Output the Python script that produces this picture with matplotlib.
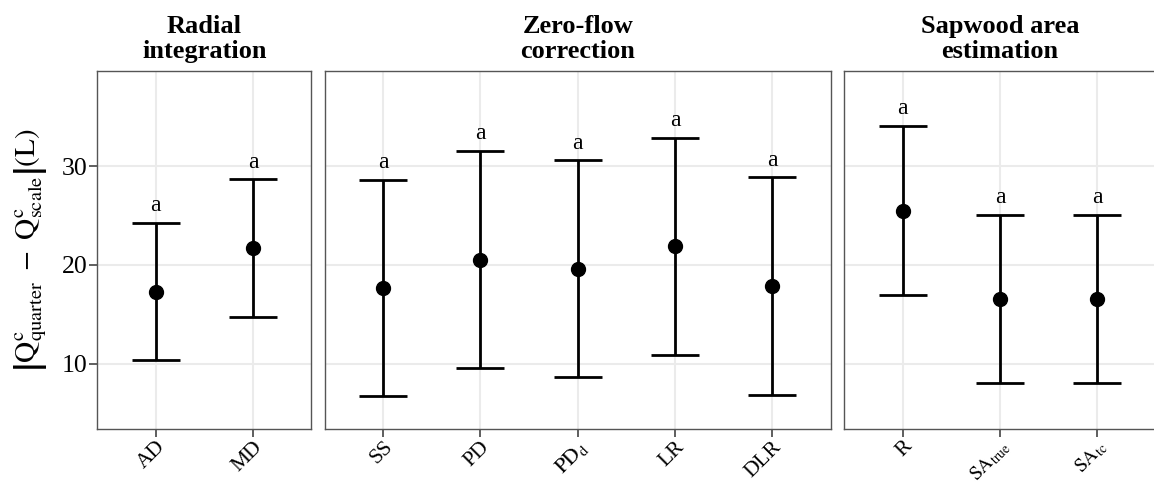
import numpy as np
import matplotlib.pyplot as plt

plt.rcParams["font.family"] = ["Liberation Serif", "DejaVu Serif"]
plt.rcParams["mathtext.fontset"] = "stix"

# one panel per processing step
titles = ["Radial\nintegration", "Zero-flow\ncorrection", "Sapwood area\nestimation"]
methods = [
    ["AD", "MD"],
    ["SS", "PD", r"$\mathrm{PD}_{\mathrm{d}}$", "LR", "DLR"],
    ["R", r"$\mathrm{SA}_{\mathrm{true}}$", r"$\mathrm{SA}_{\mathrm{tc}}$"],
]
means = [
    [17.25, 21.70],
    [17.64, 20.51, 19.60, 21.92, 17.85],
    [25.49, 16.53, 16.53],
]
lower = [
    [10.33, 14.75],
    [6.70, 9.56, 8.65, 10.91, 6.87],
    [16.99, 8.01, 8.01],
]
upper = [
    [24.23, 28.65],
    [28.62, 31.52, 30.57, 32.86, 28.86],
    [34.04, 25.02, 25.02],
]
letters = [["a", "a"], ["a", "a", "a", "a", "a"], ["a", "a", "a"]]

W, H = 1154, 483
fig = plt.figure(figsize=(W / 100, H / 100), dpi=100)

# panel placement in pixels, widths follow the number of methods
unit = 97.3
lefts = [97.3, 324.7, 844.3]
top_px, bot_px = 70.7, 429.0

for i in range(3):
    n = len(methods[i])
    w = (n + 0.2) * unit
    ax = fig.add_axes([lefts[i] / W, 1 - bot_px / H, w / W, (bot_px - top_px) / H])
    x = np.arange(n)
    m = np.array(means[i])
    lo = np.array(lower[i])
    hi = np.array(upper[i])
    ax.errorbar(x, m, yerr=[m - lo, hi - m], fmt="o", color="black", ms=10,
                elinewidth=2, capsize=17, capthick=2, zorder=3)
    for xi, yi, lab in zip(x, hi, letters[i]):
        ax.text(xi, yi + 1.75, lab, ha="center", va="center", fontsize=17)

    ax.set_xlim(-0.6, n - 0.4)
    ax.set_ylim(3.39, 39.65)
    ax.set_yticks([10, 20, 30])
    ax.set_yticklabels(["10", "20", "30"], fontsize=18.5)
    ax.set_xticks(x)
    ticklabels = ax.set_xticklabels(methods[i], rotation=45, ha="right", va="top",
                                    rotation_mode="anchor", fontsize=15.5)
    # subscripted names are long, keep them inside the figure
    for t in ticklabels:
        if "SA" in t.get_text():
            t.set_fontsize(14)
    ax.grid(color="#EBEBEB", lw=1.5)
    ax.set_axisbelow(True)
    for s in ax.spines.values():
        s.set_color("#555555")
        s.set_linewidth(1.0)
    ax.tick_params(axis="both", color="#333333", length=5.5, width=1.1,
                   labelcolor="black", pad=1.5)
    ax.tick_params(axis="x", pad=0.5)
    ax.set_title(titles[i], fontweight="bold", fontsize=19, pad=9, linespacing=1.1)
    if i == 0:
        ax.set_ylabel(r"$\left|\mathrm{Q}^{\mathrm{c}}_{\mathrm{quarter}}\ -\ \mathrm{Q}^{\mathrm{c}}_{\mathrm{scale}}\right|\left(\mathrm{L}\right)$",
                      fontsize=21)
        ax.yaxis.set_label_coords(-0.225, 0.5)
    else:
        ax.tick_params(axis="y", left=False, labelleft=False)

fig.savefig("out.png", dpi=100)
